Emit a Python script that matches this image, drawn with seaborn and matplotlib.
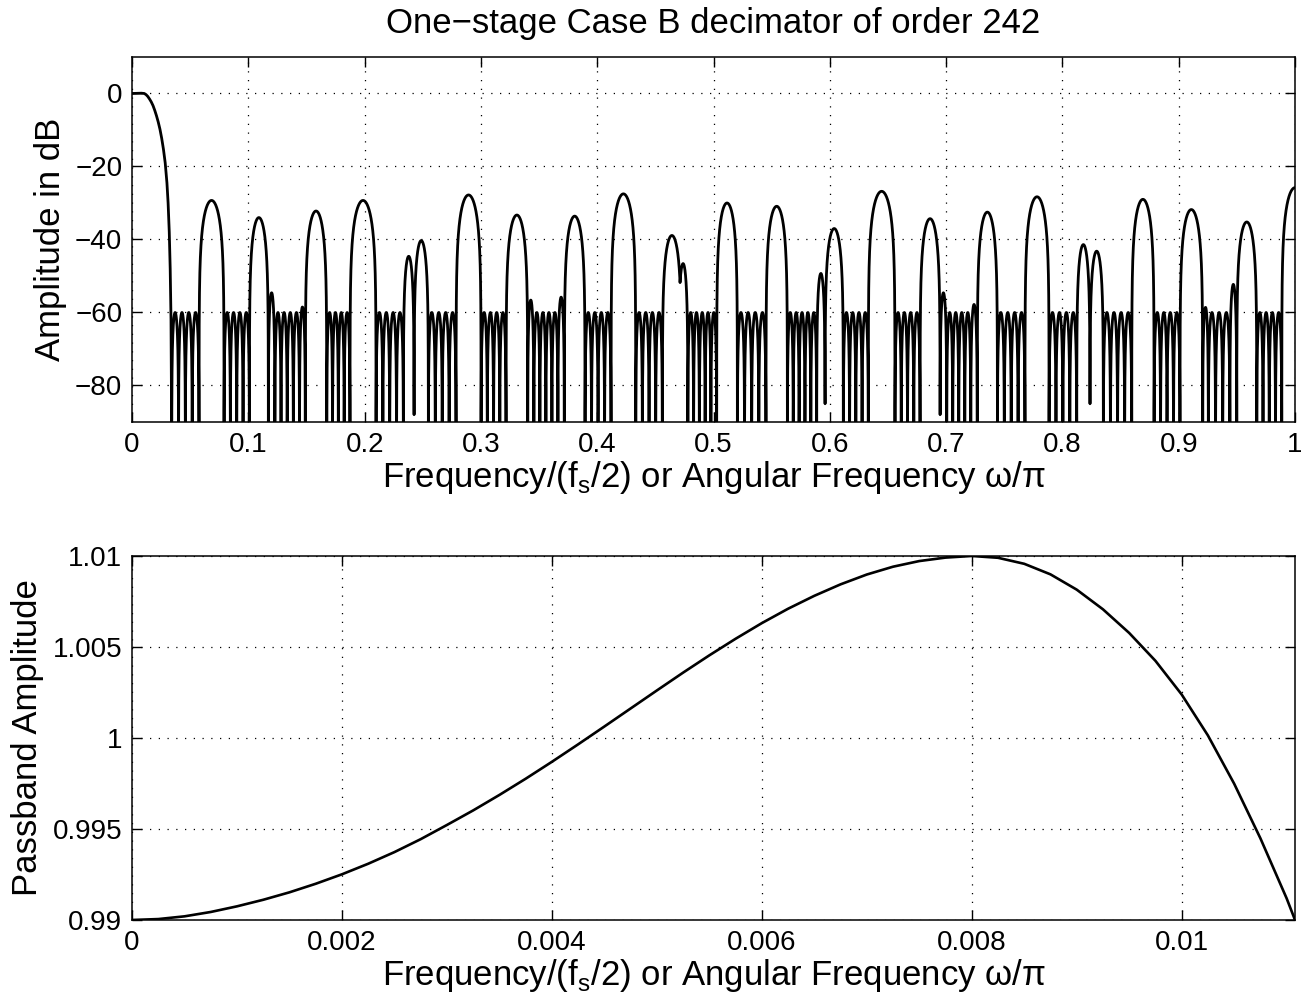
import numpy as np
import pandas as pd
import matplotlib
matplotlib.use("Agg")
import matplotlib.pyplot as plt
import seaborn as sns

# ---------------- data ----------------
TITLE = "One\u2212stage Case B decimator of order 242"
XLABEL = "Frequency/(f$_{\\mathregular{s}}$/2) or Angular Frequency \u03c9/\u03c0"
YLABEL_TOP = "Amplitude in dB"
YLABEL_BOT = "Passband Amplitude"

# top panel: passband roll-off (normalised freq, dB)
pass_f = [0, 0.004, 0.008, 0.0105, 0.012, 0.0135, 0.015, 0.0165, 0.018, 0.0195,
          0.021, 0.0225, 0.024, 0.0255, 0.027, 0.0285, 0.030, 0.031, 0.032,
          0.0328, 0.0335, 0.0341]
pass_db = [0, 0.04, 0.08, 0.0, -0.3, -0.8, -1.5, -2.3, -3.3, -4.6,
           -6.1, -7.8, -9.8, -12.3, -15.3, -19.0, -24.5, -30.0, -38.0,
           -48.0, -62.0, -95.0]

# top panel: lobes (start, end, peak dB) incl. small edge bumps
lobe_start = [0.0576, 0.1009, 0.1172, 0.1440, 0.1490, 0.1874, 0.2333, 0.2425, 0.2786,
              0.3216, 0.3402, 0.3662, 0.3717, 0.4119, 0.4560, 0.4697, 0.5027, 0.5451,
              0.5887, 0.5959, 0.6331, 0.6776, 0.6948, 0.7212, 0.7268, 0.7678, 0.8123,
              0.8237, 0.8596, 0.9011, 0.9206, 0.9440, 0.9499, 0.9886]
lobe_end = [0.0791, 0.1172, 0.1228, 0.1490, 0.1674, 0.2098, 0.2425, 0.2548, 0.3001,
            0.3402, 0.3455, 0.3717, 0.3895, 0.4331, 0.4724, 0.4779, 0.5205, 0.5635,
            0.5959, 0.6116, 0.6560, 0.6948, 0.7005, 0.7268, 0.7441, 0.7885, 0.8237,
            0.8352, 0.8788, 0.9206, 0.9255, 0.9499, 0.9671, 1.0114]
lobe_peak = [-29.3, -34.0, -54.6, -58.5, -32.2, -29.3, -44.6, -40.3, -27.8,
             -33.3, -56.6, -55.8, -33.6, -27.5, -38.9, -46.6, -30.0, -30.9,
             -49.3, -37.0, -26.8, -34.3, -54.6, -57.8, -32.5, -28.3, -41.4,
             -43.2, -29.0, -31.8, -58.6, -52.3, -35.2, -25.8]
# stopband ripple level and approximate ripple width
stop_level = -60.0
ripple_width = 0.0055
# partial notches (position, depth dB)
notch_f = [0.2425, 0.5959, 0.6948, 0.8237]
notch_db = [-88, -85, -88, -85]

# bottom panel: passband amplitude
pb_f = [0, 0.00025, 0.0005, 0.00075, 0.001, 0.00125, 0.0015, 0.00175, 0.002,
        0.00225, 0.0025, 0.00275, 0.003, 0.00325, 0.0035, 0.00375, 0.004,
        0.00425, 0.0045, 0.00475, 0.005, 0.00525, 0.0055, 0.00575, 0.006,
        0.00625, 0.0065, 0.00675, 0.007, 0.00725, 0.0075, 0.00775, 0.008,
        0.00825, 0.0085, 0.00875, 0.009, 0.00925, 0.0095, 0.00975, 0.01,
        0.01025, 0.0105, 0.01075, 0.011, 0.01108]
pb_amp = [0.99000, 0.99005, 0.99020, 0.99044, 0.99075, 0.99111, 0.99152, 0.99199, 0.99251,
          0.99309, 0.99373, 0.99444, 0.99522, 0.99602, 0.99687, 0.99776, 0.99869,
          0.99965, 1.00063, 1.00162, 1.00261, 1.00359, 1.00454, 1.00545, 1.00631,
          1.00710, 1.00781, 1.00844, 1.00898, 1.00941, 1.00972, 1.00991, 1.01000,
          1.00990, 1.00957, 1.00899, 1.00815, 1.00707, 1.00577, 1.00424, 1.00239,
          1.00014, 0.99749, 0.99449, 0.99119, 0.99000]

top_xticks = [0, 0.1, 0.2, 0.3, 0.4, 0.5, 0.6, 0.7, 0.8, 0.9, 1.0]
top_xlabels = ["0", "0.1", "0.2", "0.3", "0.4", "0.5", "0.6", "0.7", "0.8", "0.9", "1"]
top_yticks = [0, -20, -40, -60, -80]
top_ylabels = ["0", "\u221220", "\u221240", "\u221260", "\u221280"]
bot_xticks = [0, 0.002, 0.004, 0.006, 0.008, 0.01]
bot_xlabels = ["0", "0.002", "0.004", "0.006", "0.008", "0.01"]
bot_yticks = [0.99, 0.995, 1.0, 1.005, 1.01]
bot_ylabels = ["0.99", "0.995", "1", "1.005", "1.01"]

# ---------------- build the stopband curve ----------------
segs = list(zip(lobe_start, lobe_end, lobe_peak))
order = sorted(segs)
prev = pass_f[-1]
for a, b, p in order:
    gap = a - prev
    if gap > 0.002:
        n = max(1, int(round(gap / ripple_width)))
        edges = np.linspace(prev, a, n + 1)
        for i in range(n):
            segs.append((edges[i], edges[i + 1], stop_level))
    prev = max(prev, b)

f = np.linspace(pass_f[-1], 1.0, 100001)
db = np.full_like(f, -200.0)
for a, b, p in segs:
    m = (f > a) & (f < b)
    t = (f[m] - a) / (b - a)
    v = p + 20 * np.log10(np.sin(np.pi * t) + 1e-12)
    db[m] = np.maximum(db[m], v)
for nf, nd in zip(notch_f, notch_db):
    m = np.abs(f - nf) < 0.0003
    db[m] = np.maximum(db[m], nd)
db = np.maximum(db, -120)

top = pd.DataFrame({"f": np.concatenate([pass_f, f[1:]]),
                    "db": np.concatenate([pass_db, db[1:]])})
bot = pd.DataFrame({"f": pb_f, "amp": pb_amp})

# ---------------- plot ----------------
sns.set_theme(style="ticks")
plt.rcParams["font.family"] = ["Liberation Sans", "DejaVu Sans"]
plt.rcParams["mathtext.fontset"] = "custom"
plt.rcParams["mathtext.rm"] = "Liberation Sans"

fig = plt.figure(figsize=(13.01, 10.05), dpi=100)
ax1 = fig.add_axes([0.1015, 0.5801, 0.8939, 0.3632])
ax2 = fig.add_axes([0.1015, 0.0846, 0.8939, 0.3622])

sns.lineplot(data=top, x="f", y="db", ax=ax1, color="black", linewidth=2.0,
             estimator=None, sort=False)
sns.lineplot(data=bot, x="f", y="amp", ax=ax2, color="black", linewidth=1.9,
             estimator=None, sort=False)

ax1.set_xlim(0, 1)
ax1.set_ylim(-90, 10)
ax2.set_xlim(0, 0.01108)
ax2.set_ylim(0.99, 1.01)

ax1.set_xticks(top_xticks, top_xlabels)
ax1.set_yticks(top_yticks, top_ylabels)
ax2.set_xticks(bot_xticks, bot_xlabels)
ax2.set_yticks(bot_yticks, bot_ylabels)

for ax, ylab in ((ax1, YLABEL_TOP), (ax2, YLABEL_BOT)):
    ax.grid(True, color="black", linestyle=(0, (1, 6)), linewidth=0.9)
    ax.tick_params(direction="in", length=7, width=1.0, top=True, right=True,
                   labelsize=20, colors="black")
    ax.tick_params(axis="y", pad=7)
    ax.tick_params(axis="x", pad=7)
    for s in ax.spines.values():
        s.set_visible(True)
        s.set_color("black")
        s.set_linewidth(1.1)
    ax.set_xlabel(XLABEL, fontsize=25, labelpad=1, color="black")
    ax.set_ylabel(ylab, fontsize=25, labelpad=6, color="black")
    ax.set_facecolor("white")

ax1.set_title(TITLE, fontsize=25, pad=17, color="black")

fig.savefig("out.png", dpi=100, facecolor="white")
